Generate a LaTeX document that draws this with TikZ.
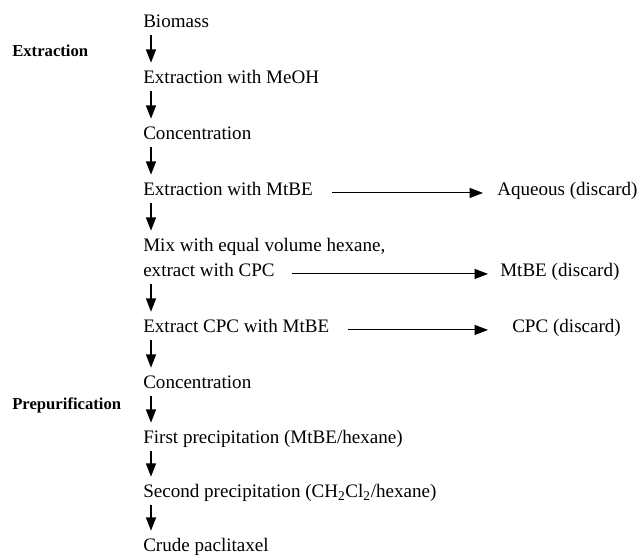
\documentclass[tikz,border=0pt]{standalone}
\usepackage{fontspec}
\setmainfont{Liberation Serif}
\usetikzlibrary{arrows.meta}
\begin{document}
\begin{tikzpicture}[x=0.75pt,y=-0.75pt,
  stage/.style={anchor=base west,inner sep=0pt,text height=9.75pt,text depth=3pt,
    font=\fontsize{14.3}{17}\selectfont},
  phase/.style={anchor=base west,inner sep=0pt,font=\fontsize{12.5}{15}\selectfont\bfseries},
  flow/.style={-{Triangle[length=10pt,width=7.5pt]},line width=1pt}]
  \useasboundingbox (0,0) rectangle (644,556);
  % main column
  \node[stage] (bio)    at (143,28)  {Biomass};
  \node[stage] (meoh)   at (143,84)  {Extraction with MeOH};
  \node[stage] (conc)   at (143,140) {Concentration};
  \node[stage] (mtbe)   at (143,196) {Extraction with MtBE};
  \node[stage] (mix)    at (143,252) {Mix with equal volume hexane,};
  \node[stage] (cpc)    at (143,277) {extract with CPC};
  \node[stage] (ecpc)   at (143,333) {Extract CPC with MtBE};
  \node[stage] (concb)  at (143,389) {Concentration};
  \node[stage] (first)  at (143,444) {First precipitation (MtBE/hexane)};
  \node[stage] (second) at (143,498) {Second precipitation (CH\textsubscript{2}Cl\textsubscript{2}/hexane)};
  \node[stage] (crude)  at (143,552) {Crude paclitaxel};
  % phase labels
  \node[phase] (extr) at (12,57)  {Extraction};
  \node[phase] (prep) at (12,410) {Prepurification};
  % discarded streams
  \node[stage] (aq)   at (497,196) {Aqueous (discard)};
  \node[stage] (mtbd) at (500,277) {MtBE (discard)};
  \node[stage] (cpcd) at (512,333) {CPC (discard)};
  % vertical arrows
  \foreach \a/\b in {bio/meoh,meoh/conc,conc/mtbe,mtbe/mix,cpc/ecpc,ecpc/concb,concb/first,first/second,second/crude}
    \draw[flow] ([xshift=6pt,yshift=-2pt]\a.south west) -- ([xshift=6pt,yshift=6pt]\b.north west);
  % side arrows
  \draw[flow,line width=0.8pt,shorten <=14.6pt,shorten >=10.5pt] (mtbe.mid east) -- (aq.mid west);
  \draw[flow,line width=0.8pt,shorten <=13.2pt,shorten >=9pt] (cpc.mid east) -- (mtbd.mid west);
  \draw[flow,line width=0.8pt,shorten <=14.25pt,shorten >=18pt] (ecpc.mid east) -- (cpcd.mid west);
\end{tikzpicture}
\end{document}
